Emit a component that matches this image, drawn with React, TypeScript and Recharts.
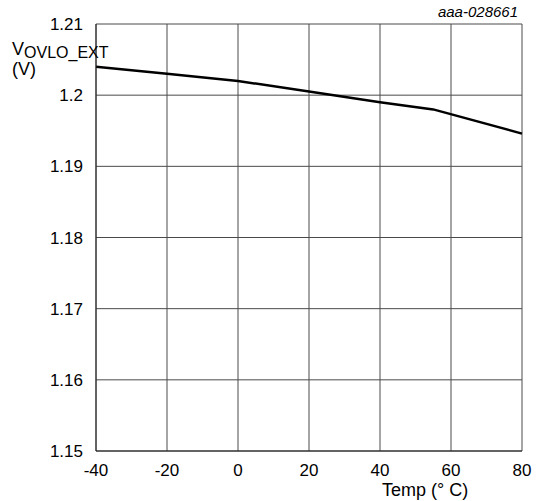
import React from 'react';
import { LineChart, Line, XAxis, YAxis, CartesianGrid } from 'recharts';

const temps = [-40, -20, 0, 20, 40, 55, 80];
const voltages = [1.204, 1.203, 1.202, 1.2005, 1.199, 1.198, 1.1946];
const xTicks = [-40, -20, 0, 20, 40, 60, 80];
const yTicks = [1.15, 1.16, 1.17, 1.18, 1.19, 1.2, 1.21];

const data = temps.map((t, i) => ({ temp: t, v: voltages[i] }));

const font = '"Liberation Sans", Arial, sans-serif';

export default function App() {
  return (
    <div style={{ position: 'absolute', left: 0, top: 0, width: 537, height: 501, background: '#fff', fontFamily: font }}>
      <LineChart width={537} height={501} data={data} margin={{ top: 24, right: 15, bottom: 0, left: 0 }}>
        <CartesianGrid stroke="#4a4a4a" strokeWidth={1} />
        <XAxis
          dataKey="temp"
          type="number"
          domain={[-40, 80]}
          ticks={xTicks}
          height={50}
          tickLine={false}
          axisLine={{ stroke: '#222' }}
          tick={{ fill: '#000', fontSize: 17, fontFamily: font }}
          tickMargin={7}
        />
        <YAxis
          type="number"
          domain={[1.15, 1.21]}
          ticks={yTicks}
          width={96}
          tickLine={false}
          axisLine={{ stroke: '#222' }}
          tick={{ fill: '#000', fontSize: 17, fontFamily: font }}
          tickMargin={7}
          tickFormatter={(v: number) => String(v)}
        />
        <Line dataKey="v" type="linear" stroke="#000" strokeWidth={2.5} dot={false} isAnimationActive={false} />
      </LineChart>
      <div style={{ position: 'absolute', right: 19, top: 3, fontSize: 15, fontStyle: 'italic', color: '#000' }}>aaa-028661</div>
      <div style={{ position: 'absolute', left: 12, top: 39, fontSize: 18, color: '#000', lineHeight: '20px', whiteSpace: 'nowrap' }}>
        V<span style={{ fontSize: 16, position: 'relative', top: 3 }}>OVLO_EXT</span>
      </div>
      <div style={{ position: 'absolute', left: 12, top: 59, fontSize: 18, color: '#000', lineHeight: '20px' }}>(V)</div>
      <div style={{ position: 'absolute', left: 382, top: 481, fontSize: 18, color: '#000', lineHeight: '18px' }}>Temp (° C)</div>
    </div>
  );
}
